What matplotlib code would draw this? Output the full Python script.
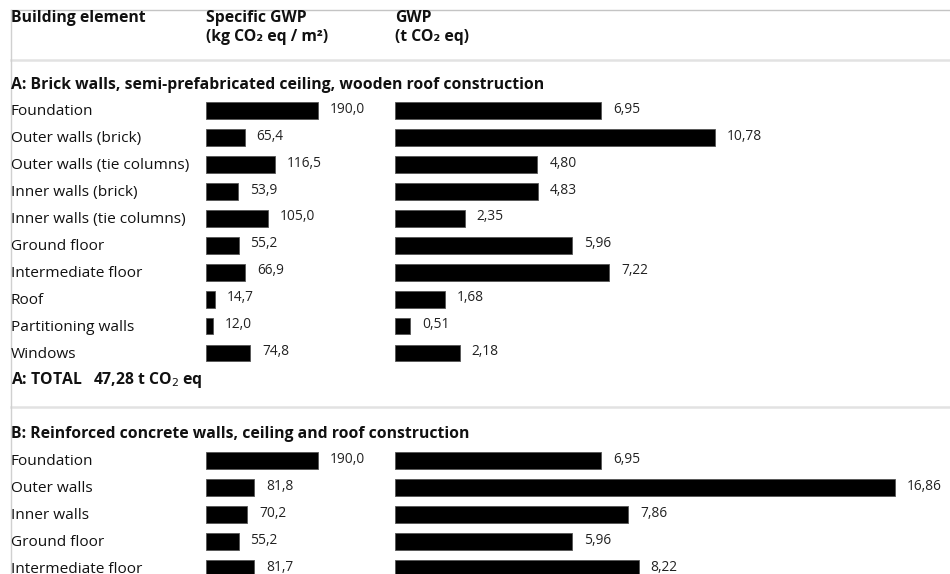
import matplotlib.pyplot as plt
from matplotlib.lines import Line2D

plt.rcParams['font.family'] = ['Open Sans', 'DejaVu Sans']

# Variant A: brick walls, semi-prefabricated ceiling, wooden roof
elements_a = ['Foundation', 'Outer walls (brick)', 'Outer walls (tie columns)',
              'Inner walls (brick)', 'Inner walls (tie columns)', 'Ground floor',
              'Intermediate floor', 'Roof', 'Partitioning walls', 'Windows']
specific_a = [190.0, 65.4, 116.5, 53.9, 105.0, 55.2, 66.9, 14.7, 12.0, 74.8]
gwp_a = [6.95, 10.78, 4.80, 4.83, 2.35, 5.96, 7.22, 1.68, 0.51, 2.18]
total_a = '47,28'

# Variant B: reinforced concrete walls, ceiling and roof
elements_b = ['Foundation', 'Outer walls', 'Inner walls', 'Ground floor',
              'Intermediate floor']
specific_b = [190.0, 81.8, 70.2, 55.2, 81.7]
gwp_b = [6.95, 16.86, 7.86, 5.96, 8.22]

W, H = 950, 574
fig = plt.figure(figsize=(W / 100, H / 100), dpi=100)

# row grid in pixels: row 0 is the first foundation line
ROW0, PITCH = 110.5, 26.95
ytop, ybot = -ROW0 / PITCH, (H - ROW0) / PITCH


def px_axes(x0, x1):
    ax = fig.add_axes([x0 / W, 0, (x1 - x0) / W, 1])
    ax.set_ylim(ybot, ytop)
    ax.axis('off')
    return ax


# background axes for text and rules, in pixel x / row y
bg = fig.add_axes([0, 0, 1, 1])
bg.set_xlim(0, W)
bg.set_ylim(ybot, ytop)
bg.axis('off')

SPEC_PX = 0.5895   # pixels per kg CO2 eq / m2
GWP_PX = 29.64     # pixels per t CO2 eq
ax_spec = px_axes(206, 206 + SPEC_PX * 300)
ax_spec.set_xlim(0, 300)
ax_gwp = px_axes(395, 950)
ax_gwp.set_xlim(0, 555 / GWP_PX)

fs = 11.1
hfs = 11.3
vfs = 9.9
num = lambda v, d: f'{v:.{d}f}'.replace('.', ',')

rows_a = list(range(len(elements_a)))
rows_b = [13 + i for i in range(len(elements_b))]

for rows, names, spec, gwp in [(rows_a, elements_a, specific_a, gwp_a),
                               (rows_b, elements_b, specific_b, gwp_b)]:
    ax_spec.barh(rows, spec, height=0.62, color='black', edgecolor='#555555', lw=0.6)
    ax_gwp.barh(rows, gwp, height=0.62, color='black', edgecolor='#555555', lw=0.6)
    for r, name, s, g in zip(rows, names, spec, gwp):
        bg.text(11, r + 0.04, name, fontsize=fs, va='center', ha='left', color='#111111')
        ax_spec.text(s + 12 / SPEC_PX, r - 0.05, num(s, 1), fontsize=vfs,
                     va='center', color='#222222')
        ax_gwp.text(g + 12 / GWP_PX, r - 0.05, num(g, 2), fontsize=vfs,
                    va='center', color='#222222')

# header
hdr = dict(fontsize=hfs, fontweight='bold', va='center', ha='left', color='#111111')
bg.text(11, (18 - ROW0) / PITCH, 'Building element', **hdr)
bg.text(206, (18 - ROW0) / PITCH, 'Specific GWP', **hdr)
bg.text(206, (37 - ROW0) / PITCH, '(kg CO₂ eq / m²)', **hdr)
bg.text(395, (18 - ROW0) / PITCH, 'GWP', **hdr)
bg.text(395, (37 - ROW0) / PITCH, '(t CO₂ eq)', **hdr)

bg.text(11, (85 - ROW0) / PITCH,
        'A: Brick walls, semi-prefabricated ceiling, wooden roof construction', **hdr)
bg.text(11, 10, f'A: TOTAL   {total_a} t CO$_2$ eq', **hdr)
bg.text(11, 12, 'B: Reinforced concrete walls, ceiling and roof construction', **hdr)

# rules
bg.add_line(Line2D([11, W], [(10 - ROW0) / PITCH] * 2, color='#c4c4c4', lw=1.0))
bg.add_line(Line2D([11, W], [(60 - ROW0) / PITCH] * 2, color='#e2e2e2', lw=1.8))
bg.add_line(Line2D([11, W], [(407 - ROW0) / PITCH] * 2, color='#e2e2e2', lw=1.8))
bg.add_line(Line2D([11, 11], [ytop + 0.37, ybot], color='#d0d0d0', lw=1.0))

fig.savefig('out.png', dpi=100)
